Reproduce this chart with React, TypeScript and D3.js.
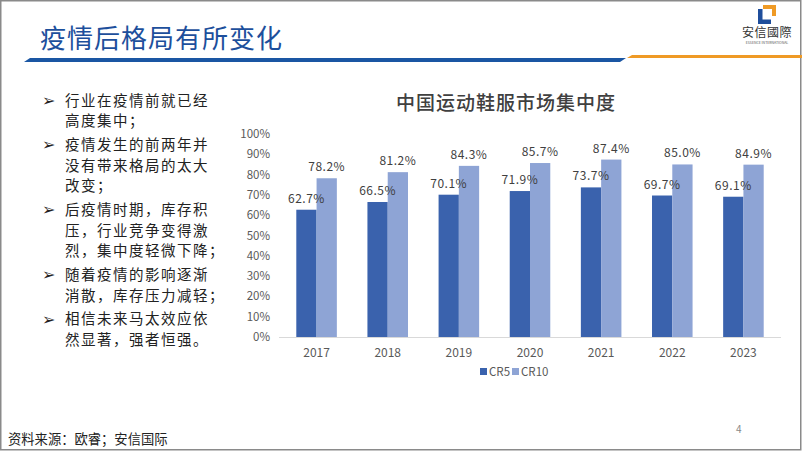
import React from "react";
import * as d3 from "d3";

const years = ["2017", "2018", "2019", "2020", "2021", "2022", "2023"];
const cr5 = [62.7, 66.5, 70.1, 71.9, 73.7, 69.7, 69.1];
const cr10 = [78.2, 81.2, 84.3, 85.7, 87.4, 85.0, 84.9];
const yTicks = [0, 10, 20, 30, 40, 50, 60, 70, 80, 90, 100];
const seriesNames = ["CR5", "CR10"];
const bullets = [
  ["行业在疫情前就已经", "高度集中；"],
  ["疫情发生的前两年并", "没有带来格局的太大", "改变；"],
  ["后疫情时期，库存积", "压，行业竞争变得激", "烈，集中度轻微下降；"],
  ["随着疫情的影响逐渐", "消散，库存压力减轻；"],
  ["相信未来马太效应依", "然显著，强者恒强。"],
];

const C5 = "#3a62ad";
const C10 = "#8ea4d5";
const FONT = "'Noto Sans CJK SC', 'Noto Sans', sans-serif";

export default function App() {
  const x0 = d3.scaleBand<string>().domain(years).range([281, 779]).paddingInner(0.43).paddingOuter(0.215);
  const x1 = d3.scaleBand<string>().domain(seriesNames).range([0, x0.bandwidth()]);
  const y = d3.scaleLinear().domain([0, 100]).range([337, 134]);
  const fmt = (v: number) => v.toFixed(1) + "%";

  let lineY = 100;
  const bulletEls: React.ReactNode[] = [];
  bullets.forEach((b, i) => {
    b.forEach((t, j) => {
      if (j === 0) {
        bulletEls.push(
          <text key={`a${i}`} x={42} y={lineY + 6} fontSize={16} fill="#222" fontFamily="'DejaVu Sans', sans-serif">➢</text>
        );
      }
      bulletEls.push(
        <text key={`t${i}-${j}`} x={65} y={lineY + 5.5} fontSize={14.5} letterSpacing={1.5} fill="#222" fontFamily={FONT}>{t}</text>
      );
      lineY += 20.6;
    });
    lineY += 3.2;
  });

  return (
    <svg width={802} height={451} style={{ position: "fixed", left: 0, top: 0, background: "#fff" }} fontFamily={FONT}>
      <rect x={0} y={0} width={802} height={451} fill="#fff" />
      <rect x={0.75} y={0.75} width={800} height={449} fill="none" stroke="#8a8a8a" strokeWidth={1.5} />
      {/* header */}
      <text x={40} y={48} fontSize={26} fill="#1d4f9c" letterSpacing={1} fontFamily={FONT}>疫情后格局有所变化</text>
      <polygon points="24,62 30,58 626,58 620,62" fill="#1a56a3" />
      <polygon points="627,58 632,55 802,55 802,58" fill="#ef9a25" />
      {/* logo */}
      <rect x={758} y={9} width={4.5} height={15} fill="#1f4e9c" />
      <rect x={758} y={19.5} width={13} height={4.5} fill="#1f4e9c" />
      <rect x={763} y={5} width={13} height={4} fill="#ef9a25" />
      <rect x={772} y={5} width={4} height={11} fill="#ef9a25" />
      <text x={767} y={37} fontSize={12} textAnchor="middle" fill="#333" letterSpacing={0.5}>安信國際</text>
      <text x={767} y={44} fontSize={3.5} textAnchor="middle" fill="#555">ESSENCE INTERNATIONAL</text>
      {/* bullets */}
      {bulletEls}
      {/* chart title */}
      <text x={506} y={110} fontSize={19} textAnchor="middle" fill="#404040" fontWeight={500} letterSpacing={1}>中国运动鞋服市场集中度</text>
      {/* y ticks */}
      {yTicks.map((t) => (
        <text key={t} x={270} y={y(t) + 4} fontSize={11.5} textAnchor="end" fill="#595959">{t}%</text>
      ))}
      {/* bars */}
      {years.map((yr, i) => (
        <g key={yr} transform={`translate(${x0(yr)},0)`}>
          <rect x={x1("CR5")} y={y(cr5[i])} width={x1.bandwidth()} height={y(0) - y(cr5[i])} fill={C5} />
          <rect x={x1("CR10")} y={y(cr10[i])} width={x1.bandwidth()} height={y(0) - y(cr10[i])} fill={C10} />
          <text x={(x1("CR5") as number) + x1.bandwidth() / 2} y={y(cr5[i]) - 7} fontSize={12} textAnchor="middle" fill="#404040" letterSpacing={0.5}>{fmt(cr5[i])}</text>
          <text x={(x1("CR10") as number) + x1.bandwidth() / 2} y={y(cr10[i]) - 7} fontSize={12} textAnchor="middle" fill="#404040" letterSpacing={0.5}>{fmt(cr10[i])}</text>
          <text x={x0.bandwidth() / 2} y={357} fontSize={12} textAnchor="middle" fill="#595959">{yr}</text>
        </g>
      ))}
      <line x1={279} x2={781} y1={337.5} y2={337.5} stroke="#d9d9d9" strokeWidth={1} />
      {/* legend */}
      <rect x={480} y={368} width={7} height={7} fill={C5} />
      <text x={489} y={375.5} fontSize={11.5} fill="#595959">CR5</text>
      <rect x={512} y={368} width={7} height={7} fill={C10} />
      <text x={521} y={375.5} fontSize={11.5} fill="#595959">CR10</text>
      {/* footer */}
      <text x={8} y={444} fontSize={13.3} fill="#222">资料来源：欧睿；安信国际</text>
      <text x={736} y={433} fontSize={10} fill="#888">4</text>
    </svg>
  );
}
